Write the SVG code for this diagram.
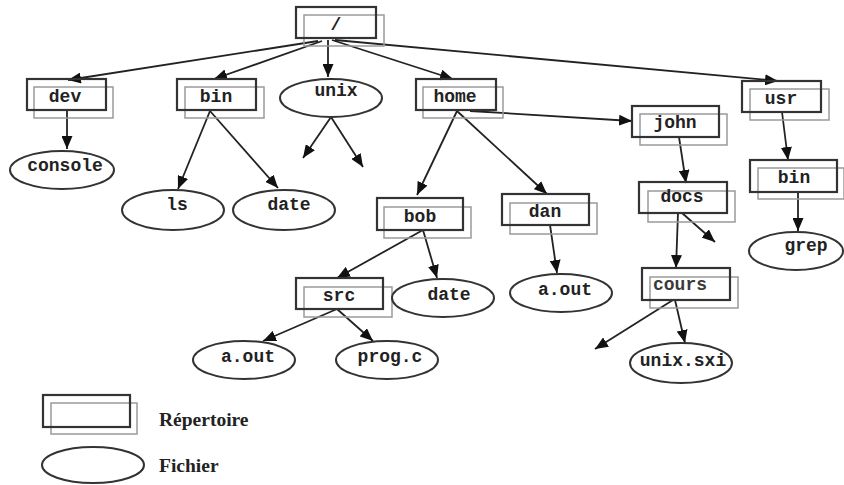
<svg xmlns="http://www.w3.org/2000/svg" width="844" height="485" viewBox="0 0 844 485">
<style>
.bk{fill:none;stroke:#9a9a9a;stroke-width:1.5}
.fr{fill:none;stroke:#333;stroke-width:2.2}
.el{fill:none;stroke:#333;stroke-width:2}
.t{font-family:"Liberation Mono","DejaVu Sans Mono",monospace;font-weight:bold;font-size:18px;fill:#222;text-anchor:middle}
.lg{font-family:"Liberation Serif","Times New Roman",serif;font-weight:bold;font-size:19.5px;fill:#222}
.c line{stroke:#222;stroke-width:1.8;marker-end:url(#ah)}
</style>
<defs>
<marker id="ah" markerUnits="userSpaceOnUse" markerWidth="13" markerHeight="11" refX="13" refY="5.5" orient="auto" viewBox="0 0 13 11">
<path d="M0,0 L13,5.5 L0,11 z" fill="#111"/>
</marker>
</defs>
<rect width="844" height="485" fill="#fff"/>
<g class="c">
<line x1="318" y1="41" x2="68" y2="80"/>
<line x1="322" y1="41" x2="214" y2="79"/>
<line x1="328" y1="40" x2="328" y2="77"/>
<line x1="332" y1="40" x2="453" y2="79"/>
<line x1="335" y1="40" x2="778" y2="81"/>
<line x1="67" y1="110" x2="67" y2="149"/>
<line x1="210" y1="111" x2="178" y2="189"/>
<line x1="210" y1="111" x2="278" y2="188"/>
<line x1="331" y1="117" x2="303" y2="158"/>
<line x1="331" y1="117" x2="363" y2="167"/>
<line x1="457" y1="111" x2="417" y2="195"/>
<line x1="457" y1="111" x2="547" y2="194"/>
<line x1="470" y1="111" x2="632" y2="121"/>
<line x1="679" y1="137" x2="686" y2="183"/>
<line x1="782" y1="112" x2="788" y2="160"/>
<line x1="798" y1="192" x2="798" y2="231"/>
<line x1="423" y1="230" x2="337" y2="278"/>
<line x1="423" y1="230" x2="437" y2="278"/>
<line x1="550" y1="225" x2="557" y2="273"/>
<line x1="337" y1="309" x2="263" y2="341"/>
<line x1="337" y1="309" x2="373" y2="341"/>
<line x1="678" y1="213" x2="676" y2="268"/>
<line x1="682" y1="213" x2="715" y2="242"/>
<line x1="673" y1="300" x2="595" y2="349"/>
<line x1="675" y1="300" x2="685" y2="343"/>
</g>
<g id="root"><rect class="bk" x="304" y="15" width="80" height="31"/><rect class="fr" x="296" y="7" width="80" height="31"/><text class="t" x="336" y="30">/</text></g>
<g id="dev"><rect class="bk" x="34" y="87" width="79" height="31"/><rect class="fr" x="27" y="79" width="79" height="31"/><text class="t" x="65" y="102">dev</text></g>
<g id="bin"><rect class="bk" x="185" y="87" width="79" height="31"/><rect class="fr" x="177" y="79" width="79" height="31"/><text class="t" x="216" y="102">bin</text></g>
<g id="unix"><ellipse class="el" cx="331" cy="98" rx="51" ry="19"/><text class="t" x="336" y="96">unix</text></g>
<g id="home"><rect class="bk" x="423" y="87" width="80" height="31"/><rect class="fr" x="416" y="79" width="80" height="31"/><text class="t" x="455" y="102">home</text></g>
<g id="john"><rect class="bk" x="640" y="114" width="87" height="31"/><rect class="fr" x="632" y="106" width="87" height="31"/><text class="t" x="675" y="128">john</text></g>
<g id="usr"><rect class="bk" x="750" y="89" width="79" height="31"/><rect class="fr" x="742" y="81" width="79" height="31"/><text class="t" x="781" y="104">usr</text></g>
<g id="usrbin"><rect class="bk" x="758" y="168" width="86" height="31"/><rect class="fr" x="750" y="160" width="87" height="32"/><text class="t" x="794" y="183">bin</text></g>
<g id="grep"><ellipse class="el" cx="796" cy="251" rx="47" ry="19"/><text class="t" x="806" y="251">grep</text></g>
<g id="console"><ellipse class="el" cx="62" cy="170" rx="52" ry="19"/><text class="t" x="65" y="171">console</text></g>
<g id="ls"><ellipse class="el" cx="173" cy="210" rx="51" ry="20"/><text class="t" x="177" y="210">ls</text></g>
<g id="date1"><ellipse class="el" cx="284" cy="210" rx="51" ry="20"/><text class="t" x="289" y="210">date</text></g>
<g id="bob"><rect class="bk" x="384" y="207" width="87" height="31"/><rect class="fr" x="377" y="198" width="86" height="32"/><text class="t" x="420" y="222">bob</text></g>
<g id="dan"><rect class="bk" x="510" y="203" width="87" height="31"/><rect class="fr" x="502" y="194" width="87" height="31"/><text class="t" x="545" y="217">dan</text></g>
<g id="docs"><rect class="bk" x="648" y="191" width="87" height="31"/><rect class="fr" x="639" y="182" width="88" height="31"/><text class="t" x="682" y="202">docs</text></g>
<g id="src"><rect class="bk" x="304" y="287" width="88" height="30"/><rect class="fr" x="296" y="278" width="87" height="31"/><text class="t" x="339" y="301">src</text></g>
<g id="date2"><ellipse class="el" cx="443" cy="298" rx="51" ry="19"/><text class="t" x="449" y="300">date</text></g>
<g id="aout1"><ellipse class="el" cx="561" cy="293" rx="51" ry="19"/><text class="t" x="565" y="295">a.out</text></g>
<g id="cours"><rect class="bk" x="650" y="277" width="88" height="31"/><rect class="fr" x="642" y="268" width="88" height="32"/><text class="t" x="680" y="290" style="fill:#3a3a3a">cours</text></g>
<g id="unixsxi"><ellipse class="el" cx="681" cy="363" rx="51" ry="20"/><text class="t" x="683" y="366">unix.sxi</text></g>
<g id="aout2"><ellipse class="el" cx="244" cy="360" rx="51" ry="19"/><text class="t" x="248" y="362">a.out</text></g>
<g id="progc"><ellipse class="el" cx="387" cy="360" rx="51" ry="19"/><text class="t" x="390" y="362">prog.c</text></g>
<g id="legend-rep"><rect class="bk" x="51" y="403" width="86" height="31"/><rect class="fr" x="43" y="395" width="87" height="32"/><text class="lg" x="159" y="426">Répertoire</text></g>
<g id="legend-fic"><ellipse class="el" cx="93" cy="465" rx="51" ry="18"/><text class="lg" x="159" y="472">Fichier</text></g>
</svg>
